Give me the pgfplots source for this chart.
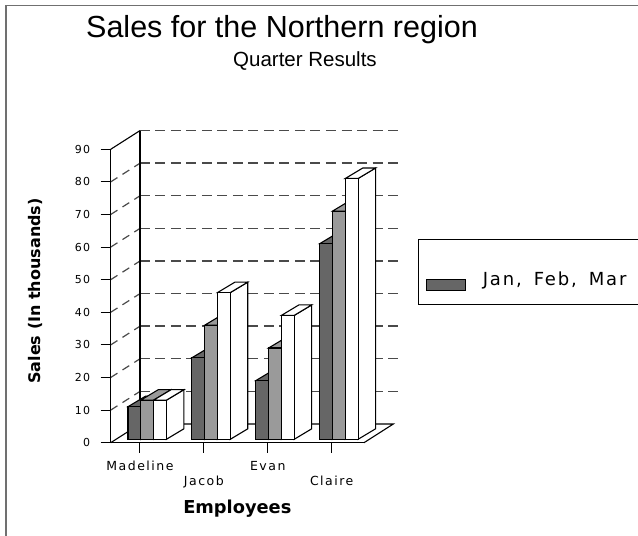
\documentclass[border=0pt]{standalone}
\usepackage{pgfplots}
\pgfplotsset{compat=1.18}
\usepackage{pgfplotstable}
\usepackage{fontspec}
\setmainfont{DejaVu Sans}
\newfontfamily\titlefont{Liberation Sans}
\newfontfamily\tickfont[LetterSpace=12]{DejaVu Sans}
\newfontfamily\legfont[LetterSpace=10,WordSpace=1.6]{DejaVu Sans}
\definecolor{darkbar}{HTML}{666666}
\definecolor{midbar}{HTML}{9A9A9A}
\definecolor{gridc}{HTML}{4A4A4A}
\definecolor{framec}{HTML}{707070}

\pgfplotstableread{
x v
0 10
1 25
2 18
3 60
}\janT
\pgfplotstableread{
x v
0 12
1 35
2 28
3 70
}\febT
\pgfplotstableread{
x v
0 12
1 45
2 38
3 80
}\marT

% cuboid bar drawn at the data point (front-top-centre of the bar)
\pgfdeclareplotmark{cuboid}{%
  \pgfmathsetmacro\bh{3.26*\barv}%
  \pgfpathmoveto{\pgfpoint{11.7pt}{3.4pt}}%
  \pgfpathlineto{\pgfpoint{29.2pt}{13.9pt}}%
  \pgfpathlineto{\pgfpoint{29.2pt}{13.9pt-\bh pt}}%
  \pgfpathlineto{\pgfpoint{11.7pt}{3.4pt-\bh pt}}%
  \pgfpathclose
  \pgfusepathqfillstroke
  \pgfpathmoveto{\pgfpoint{-1.1pt}{3.4pt}}%
  \pgfpathlineto{\pgfpoint{11.7pt}{3.4pt}}%
  \pgfpathlineto{\pgfpoint{29.2pt}{13.9pt}}%
  \pgfpathlineto{\pgfpoint{16.4pt}{13.9pt}}%
  \pgfpathclose
  \pgfusepathqfillstroke
  \pgfpathrectanglecorners{\pgfpoint{-1.1pt}{3.4pt}}{\pgfpoint{11.7pt}{3.4pt-\bh pt}}%
  \pgfusepathqfillstroke
}

\begin{document}
\begin{tikzpicture}
\fill[white] (0pt,0pt) rectangle (638pt,536pt);
\draw[framec, line width=1.5pt] (6pt,-10pt) -- (6pt,530.5pt) -- (660pt,530.5pt);
\begin{axis}[
  at={(110.7pt,93.3pt)}, anchor=south west,
  x=63.9pt, y=3.26pt,
  xmin=-0.4585, xmax=3.5055, ymin=0, ymax=90,
  clip=false,
  axis lines=left, axis line style={-, line width=1.2pt, black},
  tick align=outside, major tick length=10pt,
  tick style={black, line width=1pt},
  xtick={0,1,2,3},
  xticklabels={Madeline, \raisebox{-15.3pt}[\height][\depth]{Jacob}, Evan, \raisebox{-15.3pt}[\height][\depth]{Claire}},
  xticklabel style={font=\tickfont\fontsize{12.5}{12.5}\selectfont, anchor=base, yshift=-18pt},
  ytick={0,10,...,90},
  /pgf/number format/assume math mode=true,
  yticklabel style={font=\tickfont\fontsize{11}{11}\selectfont, xshift=-7pt},
  xlabel={Employees},
  xlabel style={font=\bfseries\fontsize{17.8}{17.8}\selectfont, at={(axis description cs:0.5,-0.243)}, anchor=base},
  ylabel={Sales (In thousands)},
  ylabel style={font=\bfseries\fontsize{16}{16}\selectfont, at={(axis description cs:-0.2752,0.517)}, anchor=base},
  legend style={at={(1.2132,0.4693)}, anchor=south west, draw=black, line width=1pt,
     inner xsep=0pt, inner ysep=14pt, nodes={inner sep=0pt}, cells={anchor=base west},
     font=\legfont\fontsize{18}{18}\selectfont},
]
% back wall grid
\addplot[forget plot, gridc, line width=1.4pt, dash pattern=on 10pt off 5.5pt] coordinates {(0,15.736) (4.116,15.736)};
\addplot[forget plot, gridc, line width=1.4pt, dash pattern=on 10pt off 5.5pt] coordinates {(0,25.736) (4.116,25.736)};
\addplot[forget plot, gridc, line width=1.4pt, dash pattern=on 10pt off 5.5pt] coordinates {(0,35.736) (4.116,35.736)};
\addplot[forget plot, gridc, line width=1.4pt, dash pattern=on 10pt off 5.5pt] coordinates {(0,45.736) (4.116,45.736)};
\addplot[forget plot, gridc, line width=1.4pt, dash pattern=on 10pt off 5.5pt] coordinates {(0,55.736) (4.116,55.736)};
\addplot[forget plot, gridc, line width=1.4pt, dash pattern=on 10pt off 5.5pt] coordinates {(0,65.736) (4.116,65.736)};
\addplot[forget plot, gridc, line width=1.4pt, dash pattern=on 10pt off 5.5pt] coordinates {(0,75.736) (4.116,75.736)};
\addplot[forget plot, gridc, line width=1.4pt, dash pattern=on 10pt off 5.5pt] coordinates {(0,85.736) (4.116,85.736)};
\addplot[forget plot, gridc, line width=1.4pt, dash pattern=on 10pt off 5.5pt] coordinates {(0,95.736) (4.116,95.736)};
% left wall diagonals
\addplot[forget plot, gridc, line width=1.2pt, dash pattern=on 8pt off 6pt] coordinates {(-0.4585,10) (0,15.736)};
\addplot[forget plot, gridc, line width=1.2pt, dash pattern=on 8pt off 6pt] coordinates {(-0.4585,20) (0,25.736)};
\addplot[forget plot, gridc, line width=1.2pt, dash pattern=on 8pt off 6pt] coordinates {(-0.4585,30) (0,35.736)};
\addplot[forget plot, gridc, line width=1.2pt, dash pattern=on 8pt off 6pt] coordinates {(-0.4585,40) (0,45.736)};
\addplot[forget plot, gridc, line width=1.2pt, dash pattern=on 8pt off 6pt] coordinates {(-0.4585,50) (0,55.736)};
\addplot[forget plot, gridc, line width=1.2pt, dash pattern=on 8pt off 6pt] coordinates {(-0.4585,60) (0,65.736)};
\addplot[forget plot, gridc, line width=1.2pt, dash pattern=on 8pt off 6pt] coordinates {(-0.4585,70) (0,75.736)};
\addplot[forget plot, gridc, line width=1.2pt, dash pattern=on 8pt off 6pt] coordinates {(-0.4585,80) (0,85.736)};
\addplot[forget plot, black, line width=1.1pt] coordinates {(-0.4585,90) (0,95.736)};
% front vertical axis and back-left vertical edge
\addplot[forget plot, black, line width=1.4pt] coordinates {(-0.4585,0) (-0.4585,90)};
\addplot[forget plot, black, line width=1.1pt] coordinates {(0,5.736) (0,95.736)};
% floor
\addplot[forget plot, black, line width=1.1pt] coordinates {(-0.4585,0) (0,5.736) (3.964,5.736) (3.5055,0)};
% bars
\addplot[only marks, mark=cuboid, mark options={fill=darkbar, draw=black, line width=1.1pt},
  visualization depends on={rawy \as \barv},
  legend image code/.code={\path (-7.7pt,0pt) (55.7pt,0pt); \draw[fill=darkbar, line width=1pt] (0pt,-5pt) rectangle (39pt,6pt);}]
  table[x expr=\thisrow{x}-0.1706, y=v] {\janT};
\addlegendentry{\rule{0pt}{32pt}Jan, Feb, Mar\hspace*{40pt}}
\addplot[forget plot, only marks, mark=cuboid, mark options={fill=midbar, draw=black, line width=1.1pt},
  visualization depends on={rawy \as \barv}]
  table[x expr=\thisrow{x}+0.0297, y=v] {\febT};
\addplot[forget plot, only marks, mark=cuboid, mark options={fill=white, draw=black, line width=1.1pt},
  visualization depends on={rawy \as \barv}]
  table[x expr=\thisrow{x}+0.2300, y=v] {\marT};
\end{axis}
\node[anchor=base, font=\titlefont\fontsize{30.5}{30.5}\selectfont] at (282pt,498.5pt) {Sales for the Northern region};
\node[anchor=base, font=\titlefont\fontsize{20.5}{20.5}\selectfont] at (305pt,469.5pt) {Quarter Results};
\pgfresetboundingbox
\path[use as bounding box] (0pt,0pt) rectangle (638pt,536pt);
\end{tikzpicture}
\end{document}
